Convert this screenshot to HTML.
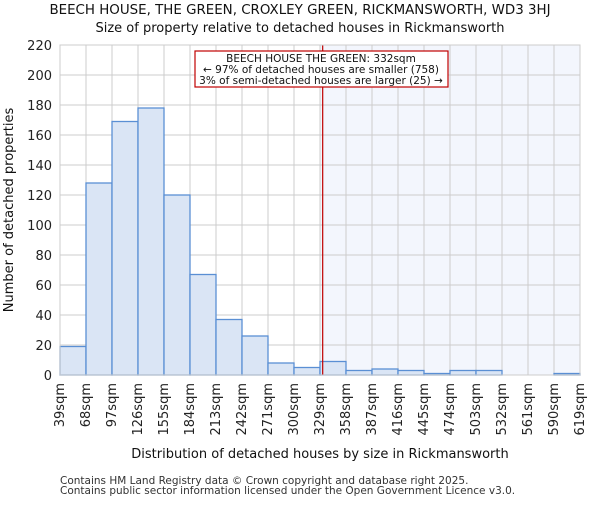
<!DOCTYPE html><html><head><meta charset="utf-8"><style>body{margin:0;background:#fff}svg{font-family:"DejaVu Sans","Liberation Sans",sans-serif}</style></head><body>
<svg id="c" width="600" height="500"></svg>
<script>
const labels=["39sqm","68sqm","97sqm","126sqm","155sqm","184sqm","213sqm","242sqm","271sqm","300sqm","329sqm","358sqm","387sqm","416sqm","445sqm","474sqm","503sqm","532sqm","561sqm","590sqm","619sqm"];
const edges=[39,68,97,126,155,184,213,242,271,300,329,358,387,416,445,474,503,532,561,590,619];
const counts=[19,128,169,178,120,67,37,26,8,5,9,3,4,3,1,3,3,0,0,1];
const yTicks=[0,20,40,60,80,100,120,140,160,180,200,220];
const marker=332;
const L=60,R=580,T=45,B=375,ymax=220;
const xs=v=>L+(v-edges[0])/(edges[edges.length-1]-edges[0])*(R-L);
const ys=v=>B-v/ymax*(B-T);
const svg=document.getElementById('c');const NS='http://www.w3.org/2000/svg';
function mk(t,a,p){const e=document.createElementNS(NS,t);for(const k in a)e.setAttribute(k,a[k]);(p||svg).appendChild(e);return e;}
function txt(s,a){const e=mk('text',a);e.textContent=s;return e;}
let sh=mk('rect',{x:xs(edges[10]),y:T,width:R-xs(edges[10]),height:B-T,fill:'#f3f6fd'});


yTicks.forEach(v=>{let g=mk('line',{x1:L,x2:R,y1:ys(v),y2:ys(v),stroke:'#cccccc'});


let t=txt(v,{x:L-8,y:ys(v)+5,'text-anchor':'end','font-size':13,fill:'#222'});

});
edges.forEach((v,i)=>{let g=mk('line',{x1:xs(v),x2:xs(v),y1:T,y2:B,stroke:'#cccccc'});


let x=xs(v)+4,y=B+8;
let t=txt(labels[i],{x:x,y:y,'text-anchor':'end','font-size':13,fill:'#222',transform:`rotate(-90 ${x} ${y})`});

});
counts.forEach((c,i)=>{let r=mk('rect',{x:xs(edges[i]),y:ys(c),width:xs(edges[i+1])-xs(edges[i]),height:B-ys(c),fill:'#dae5f5',stroke:'#5a8fd4','stroke-width':1.3});

});
let ml=mk('line',{x1:xs(marker),x2:xs(marker),y1:T,y2:B,stroke:'#c00000','stroke-width':1.2});


let ax=mk('rect',{x:L,y:T,width:R-L,height:B-T,fill:'none',stroke:'#ccc'});


let ab=mk('rect',{x:195,y:51,width:253,height:36,fill:'#fff',stroke:'#c00000','stroke-width':1.2});


[["BEECH HOUSE THE GREEN: 332sqm",62],["← 97% of detached houses are smaller (758)",73],["3% of semi-detached houses are larger (25) →",84]].forEach(a=>{let t=txt(a[0],{x:321,y:a[1],'text-anchor':'middle','font-size':10.5,fill:'#111'});

});
let t1=txt("BEECH HOUSE, THE GREEN, CROXLEY GREEN, RICKMANSWORTH, WD3 3HJ",{x:300,y:14,'text-anchor':'middle','font-size':13.4,fill:'#111'});


let t2=txt("Size of property relative to detached houses in Rickmansworth",{x:300,y:32,'text-anchor':'middle','font-size':13,fill:'#111'});


let xt=txt("Distribution of detached houses by size in Rickmansworth",{x:320,y:458,'text-anchor':'middle','font-size':13,fill:'#111'});


let yt=txt("Number of detached properties",{x:13,y:210,'text-anchor':'middle','font-size':13,fill:'#111',transform:'rotate(-90 13 210)'});


let f1=txt("Contains HM Land Registry data © Crown copyright and database right 2025.",{x:60,y:484,'font-size':10.5,fill:'#333'});


let f2=txt("Contains public sector information licensed under the Open Government Licence v3.0.",{x:60,y:494,'font-size':10.5,fill:'#333'});


</script></body></html>
